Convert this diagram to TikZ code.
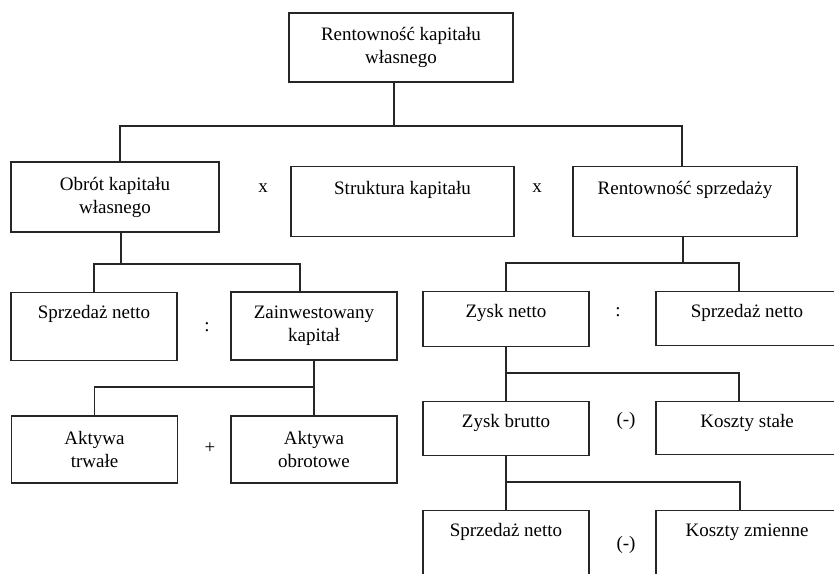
\documentclass[tikz,border=0pt]{standalone}
\usepackage{fontspec}
\setmainfont{Liberation Serif}
\usepackage{tikz}
\begin{document}
\begin{tikzpicture}[
    x=1pt, y=-1pt,
    bx/.style={draw=black!85, line width=1.2pt, inner sep=0pt, align=center, font=\fontsize{19}{23}\selectfont},
    one/.style 2 args={text height=#1, text depth=#2, anchor=north},
    op/.style={font=\fontsize{19}{23}\selectfont, inner sep=1pt},
    ln/.style={draw=black!85, line width=1.2pt}]
  \useasboundingbox (0,0) rectangle (834,573);
  \clip (0,0) rectangle (834,573);
  \fill[white] (0,0) rectangle (834,573);
  \node[bx, minimum width=224pt, minimum height=69pt] (top) at (401,47.5) {Rentowność kapitału\\własnego};
  \node[bx, minimum width=208pt, minimum height=70pt] (obrot) at (115,197) {Obrót kapitału\\własnego};
  \node[bx, one={28pt}{42pt}, minimum width=223pt] (strukt) at (402.5,166) {Struktura kapitału};
  \node[bx, one={28pt}{42pt}, minimum width=224pt] (rsprz) at (685,166) {Rentowność sprzedaży};
  \node[bx, one={26pt}{42pt}, minimum width=166pt] (sn1) at (94,292) {Sprzedaż netto};
  \node[bx, minimum width=166pt, minimum height=68pt] (zain) at (314,326) {Zainwestowany\\kapitał};
  \node[bx, minimum width=166pt, minimum height=67pt] (akt) at (94.5,449.5) {Aktywa\\trwałe};
  \node[bx, minimum width=166pt, minimum height=67pt] (ako) at (314,449.5) {Aktywa\\obrotowe};
  \node[bx, one={26pt}{29pt}, minimum width=166pt] (zn) at (506,291) {Zysk netto};
  \node[bx, one={26pt}{28pt}, minimum width=182pt] (sn2) at (747,291) {Sprzedaż netto};
  \node[bx, one={26pt}{28pt}, minimum width=166pt] (zb) at (506,401) {Zysk brutto};
  \node[bx, one={26pt}{27pt}, minimum width=182pt] (ks) at (747,401) {Koszty stałe};
  \node[bx, one={26pt}{80pt}, minimum width=166pt] (sn3) at (506,510) {Sprzedaż netto};
  \node[bx, one={26pt}{80pt}, minimum width=182pt] (kz) at (747,510) {Koszty zmienne};
  \foreach \n/\x/\y/\t in {x1/263/188/x, x2/537/188/x, d1/207/327/:, d2/618/312/:, p1/210/448/+, m1/626/421/{(-)}, m2/626/545/{(-)}} {
    \node[op] (op\n) at (\x,\y) {\t};
  }
  \coordinate (j1) at (394,126);
  \coordinate (j2) at (121,264);
  \coordinate (j3) at (314,387);
  \coordinate (j4) at (683,263);
  \coordinate (j5) at (506,373);
  \coordinate (j6) at (506,482);
  \draw[ln] (top.south -| j1) -- (j1);
  \draw[ln] ([xshift=5pt]obrot.north) |- (j1) -| ([xshift=-3pt]rsprz.north);
  \draw[ln] ([xshift=6pt]obrot.south) -- (j2);
  \draw[ln] (sn1.north) |- (j2) -| ([xshift=-14pt]zain.north);
  \draw[ln] (zain.south) -- (ako.north);
  \draw[ln] (akt.north) |- (j3);
  \draw[ln] ([xshift=-2pt]rsprz.south) -- (j4);
  \draw[ln] (zn.north) |- (j4) -| ([xshift=-8pt]sn2.north);
  \draw[ln] (zn.south) -- (zb.north);
  \draw[ln] (j5) -| ([xshift=-8pt]ks.north);
  \draw[ln] (zb.south) -- (sn3.north);
  \draw[ln] (j6) -| ([xshift=-7pt]kz.north);
\end{tikzpicture}
\end{document}
